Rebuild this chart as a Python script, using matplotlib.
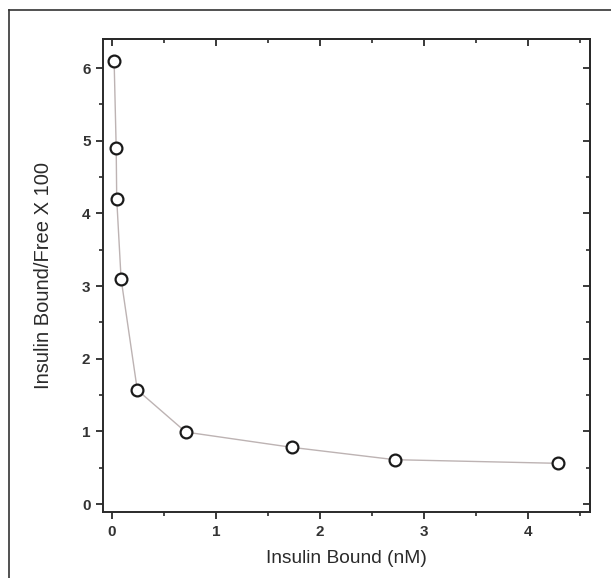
import matplotlib
matplotlib.use('Agg')
import matplotlib.pyplot as plt
from matplotlib.lines import Line2D
from matplotlib.ticker import MultipleLocator

# insulin bound (nM) vs bound/free x 100
bound = [0.02, 0.04, 0.045, 0.087, 0.243, 0.71, 1.73, 2.72, 4.29]
bound_free = [6.1, 4.9, 4.2, 3.1, 1.57, 0.99, 0.78, 0.61, 0.56]
x_ticks = [0, 1, 2, 3, 4]
y_ticks = [0, 1, 2, 3, 4, 5, 6]

plt.rcParams['font.family'] = ['Liberation Sans', 'DejaVu Sans']

W, H = 611, 578
fig = plt.figure(figsize=(W / 100, H / 100), dpi=100)
ax = fig.add_axes([103 / W, 1 - 512 / H, (590 - 103) / W, (512 - 39) / H])

ax.plot(bound, bound_free, '-', color='#bdb3b3', lw=1.0, zorder=1)
ax.plot(bound, bound_free, 'o', ms=8.5, mfc='white', mec='#1a1a1a', mew=1.6, zorder=2)

ax.set_xlim(-0.087, 4.6)
ax.set_ylim(-0.11, 6.4)
ax.set_xticks(x_ticks)
ax.set_yticks(y_ticks)
ax.xaxis.set_minor_locator(MultipleLocator(0.5))
ax.yaxis.set_minor_locator(MultipleLocator(0.5))

for s in ax.spines.values():
    s.set_linewidth(1.4)
    s.set_color('#2a2a2a')

ax.tick_params(which='major', direction='out', length=5, width=1.3, color='#2a2a2a',
               labelsize=11, pad=4)
ax.tick_params(which='minor', direction='out', length=3, width=1.2, color='#2a2a2a')
for lab in ax.get_xticklabels() + ax.get_yticklabels():
    lab.set_fontweight('bold')
    lab.set_color('#333333')

# mirrored ticks on top / right pointing inward
top = ax.secondary_xaxis('top')
top.set_xticks(x_ticks)
top.xaxis.set_minor_locator(MultipleLocator(0.5))
top.tick_params(which='major', direction='in', length=5, width=1.3, color='#2a2a2a', labeltop=False)
top.tick_params(which='minor', direction='in', length=3, width=1.2, color='#2a2a2a')
right = ax.secondary_yaxis('right')
right.set_yticks(y_ticks)
right.yaxis.set_minor_locator(MultipleLocator(0.5))
right.tick_params(which='major', direction='in', length=5, width=1.3, color='#2a2a2a', labelright=False)
right.tick_params(which='minor', direction='in', length=3, width=1.2, color='#2a2a2a')
for sa in (top, right):
    for s in sa.spines.values():
        s.set_linewidth(1.4)
        s.set_color('#2a2a2a')

ax.set_xlabel('Insulin Bound (nM)', fontsize=13.8, color='#2a2a2a', labelpad=8)
ax.set_ylabel('Insulin Bound/Free X 100', fontsize=14.5, color='#2a2a2a', labelpad=21)

# outer frame (left and top edges)
fig.add_artist(Line2D([9 / W, 9 / W], [0, 1 - 9.5 / H], transform=fig.transFigure,
                      color='#333333', lw=1.2))
fig.add_artist(Line2D([9 / W, 1], [1 - 9.5 / H, 1 - 9.5 / H], transform=fig.transFigure,
                      color='#333333', lw=1.2))

fig.savefig('out.png', dpi=100)
